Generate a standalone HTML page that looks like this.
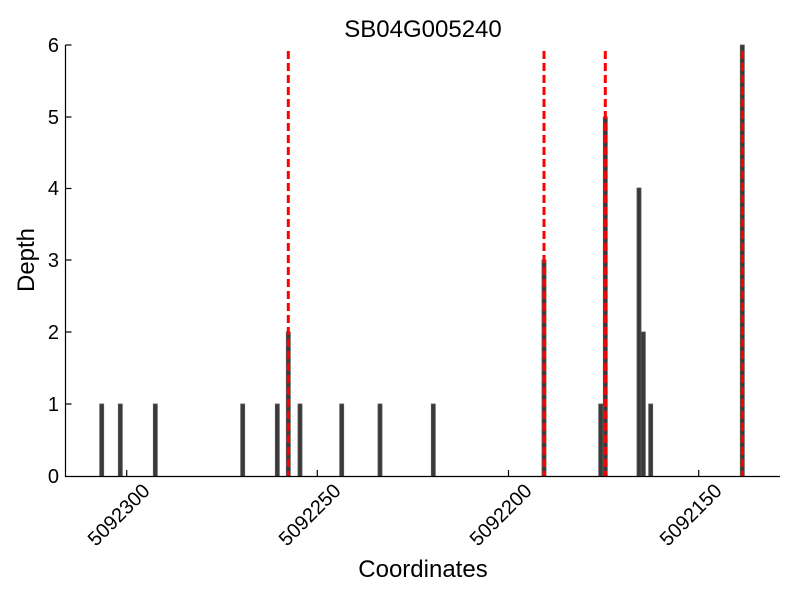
<!DOCTYPE html>
<html><head><meta charset="utf-8"><style>body{margin:0;background:#fff}</style></head><body>
<svg width="800" height="600" xmlns="http://www.w3.org/2000/svg" font-family="Liberation Sans, sans-serif">
<rect width="800" height="600" fill="#fff"/>
<text x="423" y="37" font-size="24" text-anchor="middle">SB04G005240</text>
<g fill="#3a3a3a" stroke="#555" stroke-width="0.8">
<rect x="99.7" y="404" width="4" height="72"/>
<rect x="118.3" y="404" width="4" height="72"/>
<rect x="153.3" y="404" width="4" height="72"/>
<rect x="240.7" y="404" width="4" height="72"/>
<rect x="275.3" y="404" width="4" height="72"/>
<rect x="286.3" y="332" width="4" height="144"/>
<rect x="298" y="404" width="4" height="72"/>
<rect x="339.7" y="404" width="4" height="72"/>
<rect x="378" y="404" width="4" height="72"/>
<rect x="431.3" y="404" width="4" height="72"/>
<rect x="542" y="260" width="4" height="216"/>
<rect x="598.7" y="404" width="4" height="72"/>
<rect x="603.3" y="117" width="4" height="359"/>
<rect x="637" y="188" width="4" height="288"/>
<rect x="641.3" y="332" width="4" height="144"/>
<rect x="648.7" y="404" width="4" height="72"/>
<rect x="740.3" y="45" width="4" height="431"/>
</g>
<g stroke="#f00" stroke-width="3" stroke-dasharray="8,4">
<line x1="288.3" y1="51" x2="288.3" y2="476"/>
<line x1="544" y1="51" x2="544" y2="476"/>
<line x1="605.3" y1="51" x2="605.3" y2="476"/>
<line x1="742.3" y1="51" x2="742.3" y2="476"/>
</g>
<g stroke="#000" stroke-width="1.2" fill="none">
<line x1="65.5" y1="45" x2="65.5" y2="476.5"/>
<line x1="65" y1="476.5" x2="780" y2="476.5"/>
<line x1="65.5" y1="45" x2="71.5" y2="45"/>
<line x1="65.5" y1="117" x2="71.5" y2="117"/>
<line x1="65.5" y1="188.5" x2="71.5" y2="188.5"/>
<line x1="65.5" y1="260" x2="71.5" y2="260"/>
<line x1="65.5" y1="332" x2="71.5" y2="332"/>
<line x1="65.5" y1="404" x2="71.5" y2="404"/>
<line x1="126.7" y1="476" x2="126.7" y2="470"/>
<line x1="317.3" y1="476" x2="317.3" y2="470"/>
<line x1="508.5" y1="476" x2="508.5" y2="470"/>
<line x1="698.7" y1="476" x2="698.7" y2="470"/>
</g>
<g font-size="20" text-anchor="end">
<text x="59" y="52">6</text><text x="59" y="124">5</text><text x="59" y="195">4</text>
<text x="59" y="267">3</text><text x="59" y="339">2</text><text x="59" y="411">1</text><text x="59" y="483">0</text>
</g>
<g font-size="20" text-anchor="end">
<text transform="translate(151,492) rotate(-45)">5092300</text>
<text transform="translate(342,492) rotate(-45)">5092250</text>
<text transform="translate(533,492) rotate(-45)">5092200</text>
<text transform="translate(723,492) rotate(-45)">5092150</text>
</g>
<text x="423" y="577" font-size="24" text-anchor="middle">Coordinates</text>
<text transform="translate(34,260) rotate(-90)" font-size="24" text-anchor="middle">Depth</text>
</svg>
</body></html>
